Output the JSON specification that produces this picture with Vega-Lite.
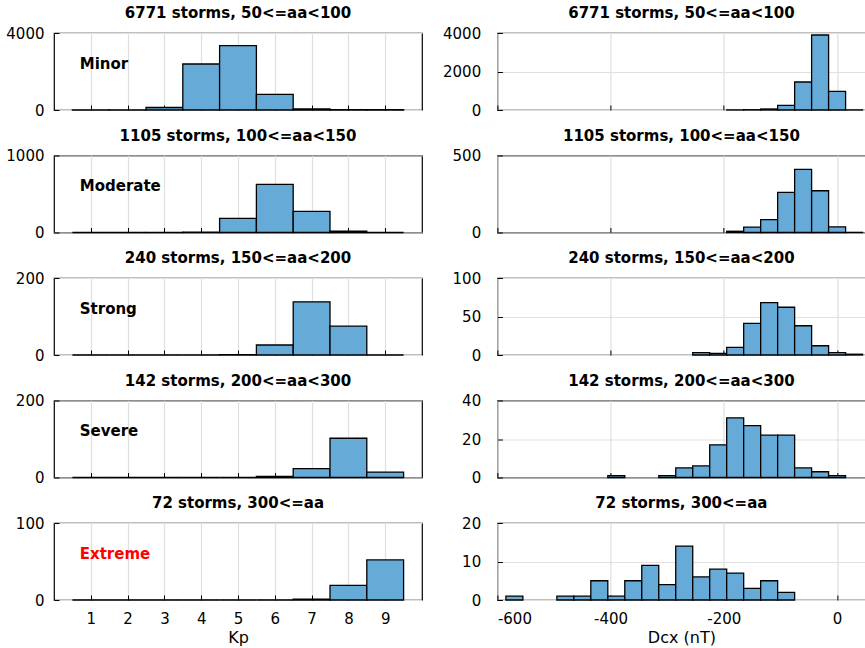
{
"$schema": "https://vega.github.io/schema/vega-lite/v6.json",
"padding": {"left": 5, "top": 5, "right": 0, "bottom": 0},
"bounds": "flush",
"columns": 2,
"spacing": {"row": 45.5, "column": 75.4},
"datasets": {
"kp": [
{"row":1,"lo":0.5,"hi":1.5,"n":3},{"row":1,"lo":1.5,"hi":2.5,"n":8},{"row":1,"lo":2.5,"hi":3.5,"n":130},{"row":1,"lo":3.5,"hi":4.5,"n":2390},{"row":1,"lo":4.5,"hi":5.5,"n":3340},{"row":1,"lo":5.5,"hi":6.5,"n":815},{"row":1,"lo":6.5,"hi":7.5,"n":52},{"row":1,"lo":7.5,"hi":8.5,"n":20},{"row":1,"lo":8.5,"hi":9.5,"n":13},
{"row":2,"lo":0.5,"hi":1.5,"n":0},{"row":2,"lo":1.5,"hi":2.5,"n":0},{"row":2,"lo":2.5,"hi":3.5,"n":1},{"row":2,"lo":3.5,"hi":4.5,"n":3},{"row":2,"lo":4.5,"hi":5.5,"n":183},{"row":2,"lo":5.5,"hi":6.5,"n":625},{"row":2,"lo":6.5,"hi":7.5,"n":275},{"row":2,"lo":7.5,"hi":8.5,"n":18},{"row":2,"lo":8.5,"hi":9.5,"n":0},
{"row":3,"lo":0.5,"hi":1.5,"n":0},{"row":3,"lo":1.5,"hi":2.5,"n":0},{"row":3,"lo":2.5,"hi":3.5,"n":0},{"row":3,"lo":3.5,"hi":4.5,"n":0},{"row":3,"lo":4.5,"hi":5.5,"n":1},{"row":3,"lo":5.5,"hi":6.5,"n":26},{"row":3,"lo":6.5,"hi":7.5,"n":138},{"row":3,"lo":7.5,"hi":8.5,"n":75},{"row":3,"lo":8.5,"hi":9.5,"n":0},
{"row":4,"lo":0.5,"hi":1.5,"n":0},{"row":4,"lo":1.5,"hi":2.5,"n":0},{"row":4,"lo":2.5,"hi":3.5,"n":0},{"row":4,"lo":3.5,"hi":4.5,"n":0},{"row":4,"lo":4.5,"hi":5.5,"n":0},{"row":4,"lo":5.5,"hi":6.5,"n":3},{"row":4,"lo":6.5,"hi":7.5,"n":23},{"row":4,"lo":7.5,"hi":8.5,"n":102},{"row":4,"lo":8.5,"hi":9.5,"n":14},
{"row":5,"lo":0.5,"hi":1.5,"n":0},{"row":5,"lo":1.5,"hi":2.5,"n":0},{"row":5,"lo":2.5,"hi":3.5,"n":0},{"row":5,"lo":3.5,"hi":4.5,"n":0},{"row":5,"lo":4.5,"hi":5.5,"n":0},{"row":5,"lo":5.5,"hi":6.5,"n":0},{"row":5,"lo":6.5,"hi":7.5,"n":1},{"row":5,"lo":7.5,"hi":8.5,"n":19},{"row":5,"lo":8.5,"hi":9.5,"n":52}
],
"dcx": [
{"row":1,"lo":-195,"hi":-165,"n":5},{"row":1,"lo":-165,"hi":-135,"n":15},{"row":1,"lo":-135,"hi":-105,"n":52},{"row":1,"lo":-105,"hi":-75,"n":242},{"row":1,"lo":-75,"hi":-45,"n":1455},{"row":1,"lo":-45,"hi":-15,"n":3896},{"row":1,"lo":-15,"hi":15,"n":970},{"row":1,"lo":15,"hi":45,"n":5},
{"row":2,"lo":-195,"hi":-165,"n":8},{"row":2,"lo":-165,"hi":-135,"n":35},{"row":2,"lo":-135,"hi":-105,"n":83},{"row":2,"lo":-105,"hi":-75,"n":260},{"row":2,"lo":-75,"hi":-45,"n":410},{"row":2,"lo":-45,"hi":-15,"n":271},{"row":2,"lo":-15,"hi":15,"n":37},{"row":2,"lo":15,"hi":45,"n":1},
{"row":3,"lo":-255,"hi":-225,"n":3},{"row":3,"lo":-225,"hi":-195,"n":2},{"row":3,"lo":-195,"hi":-165,"n":10},{"row":3,"lo":-165,"hi":-135,"n":41},{"row":3,"lo":-135,"hi":-105,"n":68},{"row":3,"lo":-105,"hi":-75,"n":62},{"row":3,"lo":-75,"hi":-45,"n":38},{"row":3,"lo":-45,"hi":-15,"n":12},{"row":3,"lo":-15,"hi":15,"n":3},{"row":3,"lo":15,"hi":45,"n":1},
{"row":4,"lo":-405,"hi":-375,"n":1},{"row":4,"lo":-315,"hi":-285,"n":1},{"row":4,"lo":-285,"hi":-255,"n":5},{"row":4,"lo":-255,"hi":-225,"n":6},{"row":4,"lo":-225,"hi":-195,"n":17},{"row":4,"lo":-195,"hi":-165,"n":31},{"row":4,"lo":-165,"hi":-135,"n":27},{"row":4,"lo":-135,"hi":-105,"n":22},{"row":4,"lo":-105,"hi":-75,"n":22},{"row":4,"lo":-75,"hi":-45,"n":5},{"row":4,"lo":-45,"hi":-15,"n":3},{"row":4,"lo":-15,"hi":15,"n":1},
{"row":5,"lo":-585,"hi":-555,"n":1},{"row":5,"lo":-495,"hi":-465,"n":1},{"row":5,"lo":-465,"hi":-435,"n":1},{"row":5,"lo":-435,"hi":-405,"n":5},{"row":5,"lo":-405,"hi":-375,"n":1},{"row":5,"lo":-375,"hi":-345,"n":5},{"row":5,"lo":-345,"hi":-315,"n":9},{"row":5,"lo":-315,"hi":-285,"n":4},{"row":5,"lo":-285,"hi":-255,"n":14},{"row":5,"lo":-255,"hi":-225,"n":6},{"row":5,"lo":-225,"hi":-195,"n":8},{"row":5,"lo":-195,"hi":-165,"n":7},{"row":5,"lo":-165,"hi":-135,"n":3},{"row":5,"lo":-135,"hi":-105,"n":5},{"row":5,"lo":-105,"hi":-75,"n":2}
]
},
"concat": [
{"width":368,"height":77,"title":"6771 storms, 50<=aa<100","layer":[
 {"data":{"name":"kp"},"transform":[{"filter":"datum.row == 1"}],"mark":{"type":"bar","fill":"#66aad7","stroke":"black","strokeWidth":1.3},
  "encoding":{"x":{"field":"lo","type":"quantitative","scale":{"domain":[0,10],"nice":false},"axis":{"values":[1,2,3,4,5,6,7,8,9],"labels":false,"title":null}},"x2":{"field":"hi"},
  "y":{"field":"n","type":"quantitative","scale":{"domain":[0,4000],"nice":false},"axis":{"values":[0,2000,4000],"title":null,"labelPadding":15,"labelExpr":"'' + datum.value"}},"y2":{"datum":0}}},
 {"data":{"values":[{}]},"mark":{"type":"text","text":"Minor","align":"left","baseline":"middle","fontWeight":"bold","fontSize":15,"color":"black"},
  "encoding":{"x":{"datum":0.7,"type":"quantitative","scale":{"domain":[0,10],"nice":false}},"y":{"datum":2400,"type":"quantitative","scale":{"domain":[0,4000],"nice":false}}}}
]},
{"width":368,"height":77,"title":"6771 storms, 50<=aa<100","layer":[
 {"data":{"name":"dcx"},"transform":[{"filter":"datum.row == 1"}],"mark":{"type":"bar","fill":"#66aad7","stroke":"black","strokeWidth":1.3},
  "encoding":{"x":{"field":"lo","type":"quantitative","scale":{"domain":[-600,50],"nice":false},"axis":{"values":[-600,-400,-200,0],"labels":false,"title":null}},"x2":{"field":"hi"},
  "y":{"field":"n","type":"quantitative","scale":{"domain":[0,4000],"nice":false},"axis":{"values":[0,2000,4000],"title":null,"labelPadding":21.7,"labelExpr":"'' + datum.value"}},"y2":{"datum":0}}}
]},
{"width":368,"height":77,"title":"1105 storms, 100<=aa<150","layer":[
 {"data":{"name":"kp"},"transform":[{"filter":"datum.row == 2"}],"mark":{"type":"bar","fill":"#66aad7","stroke":"black","strokeWidth":1.3},
  "encoding":{"x":{"field":"lo","type":"quantitative","scale":{"domain":[0,10],"nice":false},"axis":{"values":[1,2,3,4,5,6,7,8,9],"labels":false,"title":null}},"x2":{"field":"hi"},
  "y":{"field":"n","type":"quantitative","scale":{"domain":[0,1000],"nice":false},"axis":{"values":[0,500,1000],"title":null,"labelPadding":15,"labelExpr":"'' + datum.value"}},"y2":{"datum":0}}},
 {"data":{"values":[{}]},"mark":{"type":"text","text":"Moderate","align":"left","baseline":"middle","fontWeight":"bold","fontSize":15,"color":"black"},
  "encoding":{"x":{"datum":0.7,"type":"quantitative","scale":{"domain":[0,10],"nice":false}},"y":{"datum":600,"type":"quantitative","scale":{"domain":[0,1000],"nice":false}}}}
]},
{"width":368,"height":77,"title":"1105 storms, 100<=aa<150","layer":[
 {"data":{"name":"dcx"},"transform":[{"filter":"datum.row == 2"}],"mark":{"type":"bar","fill":"#66aad7","stroke":"black","strokeWidth":1.3},
  "encoding":{"x":{"field":"lo","type":"quantitative","scale":{"domain":[-600,50],"nice":false},"axis":{"values":[-600,-400,-200,0],"labels":false,"title":null}},"x2":{"field":"hi"},
  "y":{"field":"n","type":"quantitative","scale":{"domain":[0,500],"nice":false},"axis":{"values":[0,500],"title":null,"labelPadding":21.7,"labelExpr":"'' + datum.value"}},"y2":{"datum":0}}}
]},
{"width":368,"height":77,"title":"240 storms, 150<=aa<200","layer":[
 {"data":{"name":"kp"},"transform":[{"filter":"datum.row == 3"}],"mark":{"type":"bar","fill":"#66aad7","stroke":"black","strokeWidth":1.3},
  "encoding":{"x":{"field":"lo","type":"quantitative","scale":{"domain":[0,10],"nice":false},"axis":{"values":[1,2,3,4,5,6,7,8,9],"labels":false,"title":null}},"x2":{"field":"hi"},
  "y":{"field":"n","type":"quantitative","scale":{"domain":[0,200],"nice":false},"axis":{"values":[0,100,200],"title":null,"labelPadding":15,"labelExpr":"'' + datum.value"}},"y2":{"datum":0}}},
 {"data":{"values":[{}]},"mark":{"type":"text","text":"Strong","align":"left","baseline":"middle","fontWeight":"bold","fontSize":15,"color":"black"},
  "encoding":{"x":{"datum":0.7,"type":"quantitative","scale":{"domain":[0,10],"nice":false}},"y":{"datum":120,"type":"quantitative","scale":{"domain":[0,200],"nice":false}}}}
]},
{"width":368,"height":77,"title":"240 storms, 150<=aa<200","layer":[
 {"data":{"name":"dcx"},"transform":[{"filter":"datum.row == 3"}],"mark":{"type":"bar","fill":"#66aad7","stroke":"black","strokeWidth":1.3},
  "encoding":{"x":{"field":"lo","type":"quantitative","scale":{"domain":[-600,50],"nice":false},"axis":{"values":[-600,-400,-200,0],"labels":false,"title":null}},"x2":{"field":"hi"},
  "y":{"field":"n","type":"quantitative","scale":{"domain":[0,100],"nice":false},"axis":{"values":[0,50,100],"title":null,"labelPadding":21.7,"labelExpr":"'' + datum.value"}},"y2":{"datum":0}}}
]},
{"width":368,"height":77,"title":"142 storms, 200<=aa<300","layer":[
 {"data":{"name":"kp"},"transform":[{"filter":"datum.row == 4"}],"mark":{"type":"bar","fill":"#66aad7","stroke":"black","strokeWidth":1.3},
  "encoding":{"x":{"field":"lo","type":"quantitative","scale":{"domain":[0,10],"nice":false},"axis":{"values":[1,2,3,4,5,6,7,8,9],"labels":false,"title":null}},"x2":{"field":"hi"},
  "y":{"field":"n","type":"quantitative","scale":{"domain":[0,200],"nice":false},"axis":{"values":[0,100,200],"title":null,"labelPadding":15,"labelExpr":"'' + datum.value"}},"y2":{"datum":0}}},
 {"data":{"values":[{}]},"mark":{"type":"text","text":"Severe","align":"left","baseline":"middle","fontWeight":"bold","fontSize":15,"color":"black"},
  "encoding":{"x":{"datum":0.7,"type":"quantitative","scale":{"domain":[0,10],"nice":false}},"y":{"datum":120,"type":"quantitative","scale":{"domain":[0,200],"nice":false}}}}
]},
{"width":368,"height":77,"title":"142 storms, 200<=aa<300","layer":[
 {"data":{"name":"dcx"},"transform":[{"filter":"datum.row == 4"}],"mark":{"type":"bar","fill":"#66aad7","stroke":"black","strokeWidth":1.3},
  "encoding":{"x":{"field":"lo","type":"quantitative","scale":{"domain":[-600,50],"nice":false},"axis":{"values":[-600,-400,-200,0],"labels":false,"title":null}},"x2":{"field":"hi"},
  "y":{"field":"n","type":"quantitative","scale":{"domain":[0,40],"nice":false},"axis":{"values":[0,20,40],"title":null,"labelPadding":21.7,"labelExpr":"'' + datum.value"}},"y2":{"datum":0}}}
]},
{"width":368,"height":77,"title":"72 storms, 300<=aa","layer":[
 {"data":{"name":"kp"},"transform":[{"filter":"datum.row == 5"}],"mark":{"type":"bar","fill":"#66aad7","stroke":"black","strokeWidth":1.3},
  "encoding":{"x":{"field":"lo","type":"quantitative","scale":{"domain":[0,10],"nice":false},"axis":{"values":[1,2,3,4,5,6,7,8,9],"title":"Kp","labelPadding":16,"titlePadding":3}},"x2":{"field":"hi"},
  "y":{"field":"n","type":"quantitative","scale":{"domain":[0,100],"nice":false},"axis":{"values":[0,50,100],"title":null,"labelPadding":15,"labelExpr":"'' + datum.value"}},"y2":{"datum":0}}},
 {"data":{"values":[{}]},"mark":{"type":"text","text":"Extreme","align":"left","baseline":"middle","fontWeight":"bold","fontSize":15,"color":"#ff0000"},
  "encoding":{"x":{"datum":0.7,"type":"quantitative","scale":{"domain":[0,10],"nice":false}},"y":{"datum":60,"type":"quantitative","scale":{"domain":[0,100],"nice":false}}}}
]},
{"width":368,"height":77,"title":"72 storms, 300<=aa","layer":[
 {"data":{"name":"dcx"},"transform":[{"filter":"datum.row == 5"}],"mark":{"type":"bar","fill":"#66aad7","stroke":"black","strokeWidth":1.3},
  "encoding":{"x":{"field":"lo","type":"quantitative","scale":{"domain":[-600,50],"nice":false},"axis":{"values":[-600,-400,-200,0],"title":"Dcx (nT)","labelPadding":16,"titlePadding":3,"labelExpr":"'' + datum.value"}},"x2":{"field":"hi"},
  "y":{"field":"n","type":"quantitative","scale":{"domain":[0,20],"nice":false},"axis":{"values":[0,10,20],"title":null,"labelPadding":21.7,"labelExpr":"'' + datum.value"}},"y2":{"datum":0}}}
]}
],
"config": {
 "font": "DejaVu Sans",
 "view": {"stroke": "black", "strokeWidth": 1.2},
 "axis": {"domain": false, "grid": true, "gridColor": "#e0e0e0", "gridWidth": 1.2, "tickColor": "black", "tickSize": -5, "tickWidth": 1, "labelFont": "DejaVu Sans", "labelFontSize": 15, "labelColor": "black", "titleFont": "DejaVu Sans", "titleFontSize": 16, "titleFontWeight": "normal", "titleColor": "black"},
 "title": {"font": "DejaVu Sans", "fontSize": 15, "fontWeight": "bold", "color": "black", "offset": 5, "frame": "group", "anchor": "middle"}
}
}
